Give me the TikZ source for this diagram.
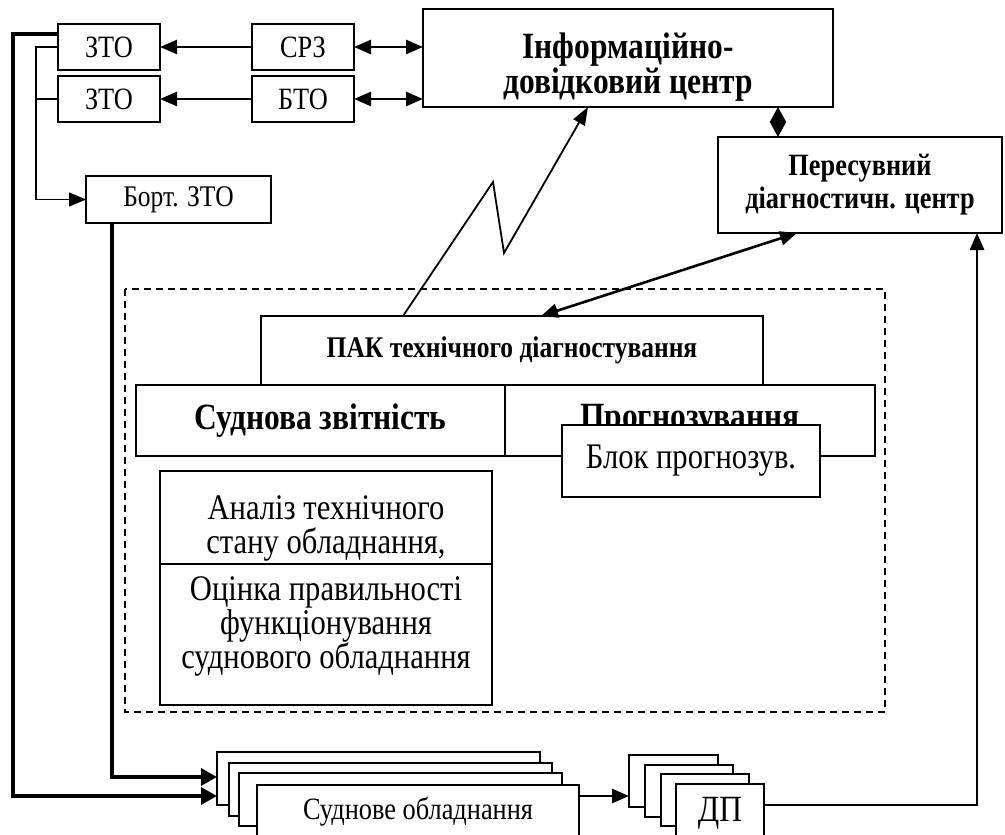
\documentclass[tikz,border=0pt]{standalone}
\usepackage{fontspec}
\setmainfont{Liberation Serif}[FakeStretch=0.85]
\usetikzlibrary{arrows.meta, positioning, calc}

\begin{document}
\begin{tikzpicture}[
    x=1pt, y=-1pt,
    box/.style={draw, fill=white, line width=2pt, inner sep=0pt, outer sep=0pt, align=center},
    small/.style={font=\fontsize{31}{33}\selectfont},
    big/.style={font=\fontsize{36}{34}\selectfont},
    head/.style={font=\bfseries\fontsize{31}{33}\selectfont},
    bighead/.style={font=\bfseries\fontsize{37}{33}\selectfont},
    arr/.style={line width=2.6pt, -{Triangle[length=17pt, width=14pt]}},
    both/.style={line width=2.6pt, {Triangle[length=17pt, width=14pt]}-{Triangle[length=17pt, width=14pt]}},
    wire/.style={line width=1.3pt},
    bus/.style={line width=3.5pt},
  ]
    \useasboundingbox (0,0) rectangle (1005,835);
    \node[box, small, minimum width=102, minimum height=46] (zto1) at (109,47) {ЗТО};
    \node[box, small, minimum width=102, minimum height=46] (zto2) at (109,99) {ЗТО};
    \node[box, small, minimum width=102, minimum height=46] (srz) at (303,47) {СРЗ};
    \node[box, small, minimum width=102, minimum height=46] (bto) at (303,99) {БТО};
    \node[box, bighead, minimum width=410, minimum height=98] (info) at (628,58) {\rule{0pt}{44pt}Інформаційно-\\довідковий центр};
    \node[box, head, minimum width=284, minimum height=96] (mobile) at (860,185) {Пересувний\\діагностичн. центр};
    \node[box, font=\fontsize{30}{32}\selectfont, minimum width=185, minimum height=47] (bort) at (178.5,199.5) {Борт. ЗТО};

    \draw[wire, dash pattern=on 7pt off 5pt] (125,289) rectangle (885,712);
    \node[box, font=\bfseries\fontsize{30}{33}\selectfont, minimum width=502, minimum height=69] (pak) at (512,350.5) {ПАК технічного діагностування};
    \node[box, bighead, minimum width=369, minimum height=71] (report) at (320.5,420.5) {Суднова звітність};
    \node[box, bighead, minimum width=370, minimum height=71] (forecast) at (690,420.5) {Прогнозування};
    \node[box, big, minimum width=258, minimum height=72] (block) at (691,461) {Блок прогнозув.};
    \node[box, big, minimum width=332, minimum height=93] (analysis) at (326,517.5) {\rule{0pt}{46pt}Аналіз технічного\\стану обладнання,};
    \node[box, big, minimum width=332, minimum height=141] (eval) at (326,634.5) {Оцінка правильності\\функціонування\\суднового обладнання\\[-10pt]{}};

    \node[box, minimum width=323, minimum height=53] (ship1) at (378.5,778.5) {};
    \node[box, minimum width=323, minimum height=53] (ship2) at (390.5,789.5) {};
    \node[box, minimum width=323, minimum height=53] (ship3) at (400.5,799.5) {};
    \node[box, small, minimum width=322, minimum height=54] (ship4) at (418,812) {Суднове обладнання};
    \node[box, minimum width=89, minimum height=52] (dp1) at (673.5,781) {};
    \node[box, minimum width=88, minimum height=52] (dp2) at (689,790.5) {};
    \node[box, minimum width=88, minimum height=52] (dp3) at (705,800) {};
    \node[box, font=\fontsize{37}{34}\selectfont, minimum width=88, minimum height=58] (dp4) at (720,813) {ДП};

    \draw[arr] (srz.west) -- (zto1.east);
    \draw[arr] (bto.west) -- (zto2.east);
    \draw[both] (srz.east) -- (srz.east -| info.west);
    \draw[both] (bto.east) -- (bto.east -| info.west);
    \draw[line width=1.5pt, {Triangle[length=15pt, width=16pt]}-{Triangle[length=15pt, width=16pt]}] ([xshift=-82pt]mobile.north |- info.south) -- ([xshift=-82pt]mobile.north);
    \draw[both] ([xshift=-63pt]mobile.south) -- ([xshift=29pt]pak.north);
    \draw[line width=1.8pt, -{Triangle[length=18pt, width=13pt]}] ([xshift=142pt]pak.north west) -- (493,182) -- (504,253) -- ([xshift=-40pt]info.south);

    \draw[wire, -{Triangle[length=17pt, width=14pt]}] (zto1.west) -- ++(-22,0) |- (bort.west);
    \draw[wire] (zto2.west) -- ++(-22,0);
    \draw[bus, -{Triangle[length=16pt, width=17pt]}] ([yshift=13pt]zto1.west) -- ++(-45,0) |- ([yshift=-17.5pt]ship1.west);
    \draw[bus, -{Triangle[length=16pt, width=17pt]}] ([xshift=-66.5pt]bort.south) |- ([yshift=1.5pt]ship1.west);
    \draw[arr] ([yshift=16pt]ship4.east) -- ([yshift=16pt]ship4.east -| dp1.west);
    \draw[arr] ([yshift=8pt]dp4.east) -| ([xshift=117pt]mobile.south);
  \end{tikzpicture}
\end{document}
